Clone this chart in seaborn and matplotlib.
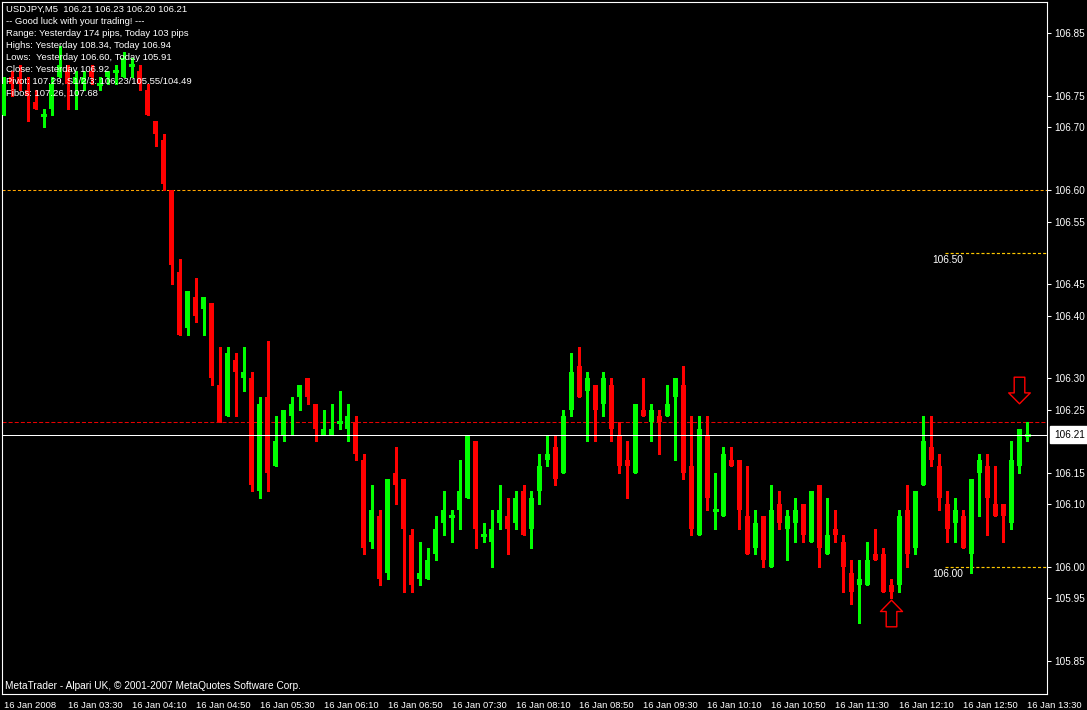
import numpy as np
import pandas as pd
import matplotlib
matplotlib.use("Agg")
import matplotlib.pyplot as plt
import seaborn as sns
from matplotlib.path import Path
from matplotlib import font_manager

# ---------------- data (USDJPY M5, 16 Jan 2008) ----------------
open_ = [106.72, 106.78, 106.78, 106.76, 106.74, 106.72, 106.73, 106.78, 106.79, 106.77,
         106.77, 106.79, 106.77, 106.78, 106.79, 106.78, 106.80, 106.79, 106.76, 106.71,
         106.68, 106.60, 106.47, 106.38, 106.43, 106.41, 106.42, 106.29, 106.24, 106.33,
         106.30, 106.30, 106.12, 106.27, 106.16, 106.21, 106.24, 106.27, 106.30, 106.26,
         106.21, 106.21, 106.23, 106.22, 106.23, 106.17, 106.04, 106.08, 105.99, 106.15,
         106.14, 106.05, 105.98, 105.98, 106.02, 106.07, 106.08, 106.09, 106.11, 106.20,
         106.05, 106.04, 106.07, 106.08, 106.07, 106.12, 106.06, 106.12, 106.17, 106.19,
         106.15, 106.25, 106.32, 106.28, 106.29, 106.26, 106.29, 106.21, 106.17, 106.15,
         106.25, 106.23, 106.24, 106.24, 106.27, 106.29, 106.16, 106.05, 106.21, 106.09,
         106.08, 106.17, 106.17, 106.08, 106.03, 106.08, 106.00, 106.10, 106.06, 106.07,
         106.10, 106.04, 106.13, 106.02, 106.06, 106.04, 105.99, 105.97, 105.97, 106.02,
         106.02, 105.97, 105.97, 106.09, 106.03, 106.13, 106.19, 106.16, 106.10, 106.07,
         106.08, 106.02, 106.15, 106.16, 106.10, 106.10, 106.07, 106.16, 106.21]
high = [106.78, 106.79, 106.80, 106.78, 106.76, 106.73, 106.78, 106.83, 106.80, 106.79,
        106.79, 106.80, 106.78, 106.79, 106.80, 106.82, 106.81, 106.80, 106.77, 106.71,
        106.69, 106.60, 106.49, 106.44, 106.46, 106.43, 106.42, 106.35, 106.35, 106.34,
        106.35, 106.31, 106.27, 106.36, 106.24, 106.25, 106.27, 106.29, 106.30, 106.26,
        106.25, 106.26, 106.28, 106.26, 106.24, 106.18, 106.13, 106.09, 106.14, 106.19,
        106.14, 106.06, 106.04, 106.03, 106.08, 106.12, 106.09, 106.17, 106.21, 106.20,
        106.07, 106.09, 106.13, 106.11, 106.12, 106.13, 106.12, 106.18, 106.21, 106.21,
        106.25, 106.34, 106.35, 106.31, 106.29, 106.31, 106.30, 106.23, 106.20, 106.26,
        106.30, 106.26, 106.25, 106.29, 106.30, 106.32, 106.24, 106.24, 106.24, 106.15,
        106.19, 106.19, 106.17, 106.16, 106.09, 106.08, 106.13, 106.12, 106.09, 106.11,
        106.10, 106.12, 106.13, 106.11, 106.09, 106.05, 106.01, 106.01, 106.04, 106.06,
        106.03, 105.98, 106.09, 106.13, 106.12, 106.24, 106.24, 106.18, 106.12, 106.11,
        106.09, 106.14, 106.18, 106.18, 106.16, 106.10, 106.20, 106.22, 106.23]
low = [106.72, 106.75, 106.76, 106.71, 106.73, 106.70, 106.72, 106.78, 106.73, 106.73,
       106.76, 106.77, 106.76, 106.77, 106.77, 106.78, 106.78, 106.76, 106.72, 106.67,
       106.60, 106.45, 106.37, 106.37, 106.39, 106.37, 106.29, 106.23, 106.24, 106.24,
       106.28, 106.12, 106.11, 106.12, 106.16, 106.20, 106.21, 106.25, 106.26, 106.20,
       106.21, 106.21, 106.22, 106.20, 106.17, 106.02, 106.03, 105.97, 105.98, 106.10,
       105.96, 105.96, 105.97, 105.98, 106.01, 106.05, 106.04, 106.06, 106.11, 106.03,
       106.04, 106.00, 106.06, 106.02, 106.06, 106.05, 106.03, 106.10, 106.16, 106.13,
       106.15, 106.24, 106.27, 106.20, 106.20, 106.24, 106.20, 106.15, 106.11, 106.15,
       106.24, 106.20, 106.18, 106.24, 106.17, 106.14, 106.05, 106.05, 106.09, 106.06,
       106.08, 106.16, 106.06, 106.02, 106.02, 106.00, 106.00, 106.06, 106.01, 106.04,
       106.04, 106.04, 106.00, 106.02, 106.04, 105.96, 105.94, 105.91, 105.97, 106.01,
       105.96, 105.95, 105.96, 106.00, 106.02, 106.13, 106.16, 106.09, 106.04, 106.04,
       106.03, 105.99, 106.08, 106.05, 106.08, 106.04, 106.06, 106.15, 106.20]
close = [106.77, 106.77, 106.77, 106.75, 106.73, 106.72, 106.77, 106.80, 106.77, 106.78,
         106.78, 106.78, 106.77, 106.79, 106.79, 106.81, 106.80, 106.77, 106.72, 106.69,
         106.61, 106.48, 106.37, 106.44, 106.40, 106.43, 106.30, 106.23, 106.34, 106.31,
         106.31, 106.13, 106.26, 106.15, 106.20, 106.25, 106.26, 106.29, 106.27, 106.22,
         106.22, 106.22, 106.23, 106.24, 106.18, 106.03, 106.09, 105.98, 106.14, 106.13,
         106.06, 105.97, 105.99, 106.01, 106.06, 106.09, 106.08, 106.12, 106.21, 106.06,
         106.05, 106.06, 106.09, 106.06, 106.11, 106.05, 106.11, 106.16, 106.18, 106.14,
         106.24, 106.31, 106.27, 106.30, 106.25, 106.30, 106.22, 106.16, 106.16, 106.26,
         106.24, 106.25, 106.23, 106.26, 106.30, 106.15, 106.06, 106.22, 106.11, 106.09,
         106.18, 106.16, 106.09, 106.02, 106.07, 106.01, 106.09, 106.07, 106.08, 106.09,
         106.05, 106.12, 106.03, 106.05, 106.05, 106.00, 105.96, 105.98, 106.01, 106.01,
         105.96, 105.96, 106.08, 106.02, 106.12, 106.20, 106.17, 106.11, 106.06, 106.09,
         106.03, 106.14, 106.17, 106.11, 106.08, 106.08, 106.17, 106.22, 106.21]

x_labels = ["16 Jan 2008", "16 Jan 03:30", "16 Jan 04:10", "16 Jan 04:50", "16 Jan 05:30",
            "16 Jan 06:10", "16 Jan 06:50", "16 Jan 07:30", "16 Jan 08:10", "16 Jan 08:50",
            "16 Jan 09:30", "16 Jan 10:10", "16 Jan 10:50", "16 Jan 11:30", "16 Jan 12:10",
            "16 Jan 12:50", "16 Jan 13:30"]
y_ticks = [106.85, 106.75, 106.70, 106.60, 106.55, 106.45, 106.40, 106.30, 106.25,
           106.15, 106.10, 106.00, 105.95, 105.85]
bid_price = 106.21
pivot_price = 106.23
level_full = 106.60
level_short = [106.50, 106.00]
level_short_text = [106.488, 105.989]
level_short_start = 117.7
arrow_down_bar, arrow_down_price = 127, 106.282
arrow_up_bar, arrow_up_price = 111, 105.926

info_lines = [
    "USDJPY,M5  106.21 106.23 106.20 106.21",
    "-- Good luck with your trading! ---",
    "Range: Yesterday 174 pips, Today 103 pips",
    "Highs: Yesterday 108.34, Today 106.94",
    "Lows:  Yesterday 106.60, Today 105.91",
    "Close: Yesterday 106.92",
    "Pivot: 107.29, S1/2/3: 106.23/105.55/104.49",
    "Fibos: 107.26, 107.68",
]
footer = "MetaTrader - Alpari UK, \u00a9 2001-2007 MetaQuotes Software Corp."

# ---------------- styling ----------------
sns.set_style("dark", {"axes.facecolor": "black", "figure.facecolor": "black",
                       "axes.edgecolor": "white", "axes.grid": False,
                       "xtick.color": "white", "ytick.color": "white",
                       "text.color": "white"})
plt.rcParams['font.family'] = ['Liberation Sans', 'DejaVu Sans']
plt.rcParams['lines.scale_dashes'] = False

# narrow font for the time axis if available
try:
    font_manager.findfont(font_manager.FontProperties(family="Liberation Sans Narrow"),
                          fallback_to_default=False)
    xfont, xsize = "Liberation Sans Narrow", 7.6
except Exception:
    xfont, xsize = "Liberation Sans", 6.8

df = pd.DataFrame({"o": open_, "h": high, "l": low, "c": close})
df["idx"] = np.arange(len(df))
df["bull"] = df["c"] >= df["o"]
GREEN, RED = "#00FF00", "#FF0000"
df["col"] = np.where(df["bull"], GREEN, RED)

W, H = 1087, 710
fig = plt.figure(figsize=(W / 100, H / 100), dpi=100, facecolor="black")
ax = fig.add_axes([2 / W, 16 / H, 1045 / W, 692 / H])
ax.set_facecolor("black")
ax.grid(False)

body_w = 0.72
x_right = 130.44
LW = 0.75

# level lines
ax.axhline(level_full, color="#FFA500", lw=LW, ls=(0, (2.2, 1.5)), zorder=1)
ax.axhline(pivot_price, color="#E80000", lw=LW, ls=(0, (2.9, 1.5)), zorder=1)
ax.hlines(level_short, level_short_start, x_right, colors="#FFC800", lw=0.85,
          linestyles=[(0, (2.2, 1.5))], zorder=1)
for lv, tp in zip(level_short, level_short_text):
    ax.text(level_short_start + 0.3, tp, f"{lv:.2f}", color="white", fontsize=7.3,
            ha="center", va="center", zorder=5)

# candles
ax.vlines(df["idx"], df["l"], df["h"], colors=df["col"], lw=LW, antialiased=False, zorder=2)
nd = df[df["o"] != df["c"]]
ax.bar(nd["idx"], (nd["c"] - nd["o"]).abs(), bottom=np.minimum(nd["o"], nd["c"]),
       width=body_w, color=nd["col"], linewidth=0, antialiased=False, zorder=3)
dj = df[df["o"] == df["c"]]
ax.hlines(dj["o"], dj["idx"] - body_w / 2, dj["idx"] + body_w / 2, colors=GREEN,
          lw=LW, antialiased=False, zorder=3)

# bid line
ax.axhline(bid_price, color="white", lw=0.72, zorder=4)

# arrows
down_path = Path([(-5.3, 13.3), (5.3, 13.3), (5.3, -2.4), (10.8, -2.4), (0, -13.3),
                  (-10.8, -2.4), (-5.3, -2.4), (-5.3, 13.3)], closed=True)
up_path = Path([(-5.3, -13.3), (5.3, -13.3), (5.3, 2.0), (11.0, 2.0), (0, 13.3),
                (-11.0, 2.0), (-5.3, 2.0), (-5.3, -13.3)], closed=True)
ms = (26.6 * 0.72) ** 2
ax.scatter([arrow_down_bar], [arrow_down_price], marker=down_path, s=ms,
           facecolor="black", edgecolor=RED, linewidth=1.0, zorder=6)
ax.scatter([arrow_up_bar], [arrow_up_price], marker=up_path, s=ms,
           facecolor="black", edgecolor=RED, linewidth=1.0, zorder=6)

# axes limits & ticks
ax.set_xlim(-0.19, x_right)
ax.set_ylim(105.797, 106.900)
ax.set_xticks(np.arange(0, len(df), 8))
ax.set_xticklabels(x_labels, fontfamily=[xfont, "DejaVu Sans"])
for lbl in ax.get_xticklabels():
    lbl.set_ha("left")
ax.yaxis.tick_right()
ax.set_yticks(y_ticks)
ax.set_yticklabels([f"{v:.2f}" for v in y_ticks])
ax.tick_params(axis="x", colors="white", length=3, width=LW, direction="out",
               pad=2.0, labelsize=xsize)
ax.tick_params(axis="y", colors="white", length=3, width=LW, direction="out",
               pad=2, labelsize=7.2)
for s in ax.spines.values():
    s.set_color("white")
    s.set_linewidth(0.8)

# bid price box on axis
ax.annotate(f"{bid_price:.2f}", xy=(1, bid_price), xycoords=ax.get_yaxis_transform(),
            xytext=(5.0, 0), textcoords="offset points", ha="left", va="center",
            fontsize=7.2, color="black", annotation_clip=False,
            bbox=dict(boxstyle="square,pad=0.35", fc="white", ec="white"))

# info text
for i, line in enumerate(info_lines):
    fig.text(6 / W, 1 - (9 + 12 * i) / H, line, color="white", fontsize=6.8,
             ha="left", va="center", zorder=10)
fig.text(5 / W, 1 - 686 / H, footer, color="white", fontsize=7.3, ha="left", va="center")

fig.savefig("out.png", dpi=100, facecolor="black")
